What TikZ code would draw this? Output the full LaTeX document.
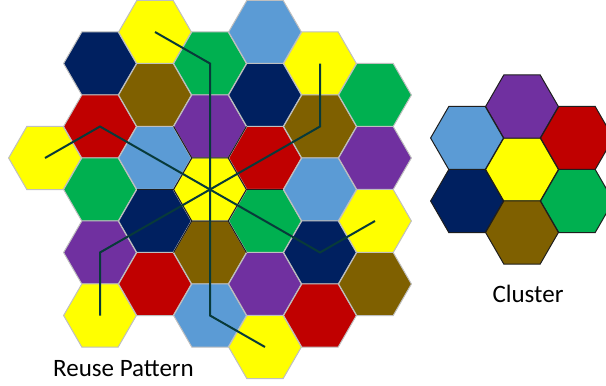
\documentclass[tikz,border=0pt]{standalone}
\usepackage{fontspec}
\setmainfont{Carlito}
\usetikzlibrary{shapes.geometric,calc}
\definecolor{cyel}{RGB}{255,255,0}
\definecolor{cdb}{RGB}{0,32,96}
\definecolor{cgr}{RGB}{0,176,80}
\definecolor{clb}{RGB}{91,155,213}
\definecolor{cbr}{RGB}{127,96,0}
\definecolor{crd}{RGB}{192,0,0}
\definecolor{cpu}{RGB}{112,48,160}
\definecolor{cedge}{RGB}{191,191,191}
\definecolor{cdark}{RGB}{30,30,30}
\definecolor{cspoke}{RGB}{8,58,58}
\tikzset{
  hexcell/.style={regular polygon, regular polygon sides=6, minimum size=72.8pt,
    inner sep=0pt, outer sep=0pt, draw=cedge, line width=1pt, line join=miter},
  clcell/.style={hexcell, draw=cdark, line width=1pt},
  spoke/.style={draw=cspoke, line width=2pt, line join=miter},
  inner/.style={draw=cdark, line width=1pt},
  lbl/.style={font=\fontsize{25}{30}\selectfont, text=black, anchor=base, inner sep=0pt}
}
\begin{document}
\begin{tikzpicture}[x=1pt,y=-1pt]
\useasboundingbox (0,0) rectangle (606,386);
% column 0
\node[hexcell, fill=cyel] (a04) at (45,158) {};
% column 1
\node[hexcell, fill=cdb]  (a11) at (100,63.5) {};
\node[hexcell, fill=crd]  (a13) at (100,126.5) {};
\node[hexcell, fill=cgr]  (a15) at (100,189.5) {};
\node[hexcell, fill=cpu]  (a17) at (100,252.5) {};
\node[hexcell, fill=cyel] (a19) at (100,315.5) {};
% column 2
\node[hexcell, fill=cyel] (a20) at (155,32) {};
\node[hexcell, fill=cbr]  (a22) at (155,95) {};
\node[hexcell, fill=clb]  (a24) at (155,158) {};
\node[hexcell, fill=cdb]  (a26) at (155,221) {};
\node[hexcell, fill=crd]  (a28) at (155,284) {};
% column 3
\node[hexcell, fill=cgr]  (a31) at (210,63.5) {};
\node[hexcell, fill=cpu]  (a33) at (210,126.5) {};
\node[hexcell, fill=cyel] (a35) at (210,189.5) {};
\node[hexcell, fill=cbr]  (a37) at (210,252.5) {};
\node[hexcell, fill=clb]  (a39) at (210,315.5) {};
% column 4
\node[hexcell, fill=clb]  (a40) at (265,32) {};
\node[hexcell, fill=cdb]  (a42) at (265,95) {};
\node[hexcell, fill=crd]  (a44) at (265,158) {};
\node[hexcell, fill=cgr]  (a46) at (265,221) {};
\node[hexcell, fill=cpu]  (a48) at (265,284) {};
\node[hexcell, fill=cyel] (a410) at (265,347) {};
% column 5
\node[hexcell, fill=cyel] (a51) at (320,63.5) {};
\node[hexcell, fill=cbr]  (a53) at (320,126.5) {};
\node[hexcell, fill=clb]  (a55) at (320,189.5) {};
\node[hexcell, fill=cdb]  (a57) at (320,252.5) {};
\node[hexcell, fill=crd]  (a59) at (320,315.5) {};
% column 6
\node[hexcell, fill=cgr]  (a62) at (375,95) {};
\node[hexcell, fill=cpu]  (a64) at (375,158) {};
\node[hexcell, fill=cyel] (a66) at (375,221) {};
\node[hexcell, fill=cbr]  (a68) at (375,284) {};
% dark edges of the central cluster
\draw[inner] (a35.corner 1) -- (a35.corner 2) -- (a35.corner 3) -- (a35.corner 4) -- (a35.corner 5) -- (a35.corner 6) -- cycle;
\foreach \i in {1,...,6} {
  \draw[inner] (a35.corner \i) -- ($(a35.center)!2!(a35.corner \i)$);
}
% spokes
\draw[spoke] (a35.center) -- (a31.center) -- (a20.center);
\draw[spoke] (a35.center) -- (a13.center) -- (a04.center);
\draw[spoke] (a35.center) -- (a53.center) -- (a51.center);
\draw[spoke] (a35.center) -- (a57.center) -- (a66.center);
\draw[spoke] (a35.center) -- (a17.center) -- (a19.center);
\draw[spoke] (a35.center) -- (a39.center) -- (a410.center);
% cluster
\node[clcell, fill=cyel] (k0) at (522,169.5) {};
\node[clcell, fill=cpu]  (k1) at (522,106.5) {};
\node[clcell, fill=clb]  (k2) at (467,138) {};
\node[clcell, fill=crd]  (k3) at (577,138) {};
\node[clcell, fill=cdb]  (k4) at (467,201) {};
\node[clcell, fill=cgr]  (k5) at (577,201) {};
\node[clcell, fill=cbr]  (k6) at (522,232.5) {};
% labels
\node[lbl] (t1) at (123.5,376) {Reuse Pattern};
\node[lbl] (t2) at (528,302) {Cluster};
\end{tikzpicture}
\end{document}
